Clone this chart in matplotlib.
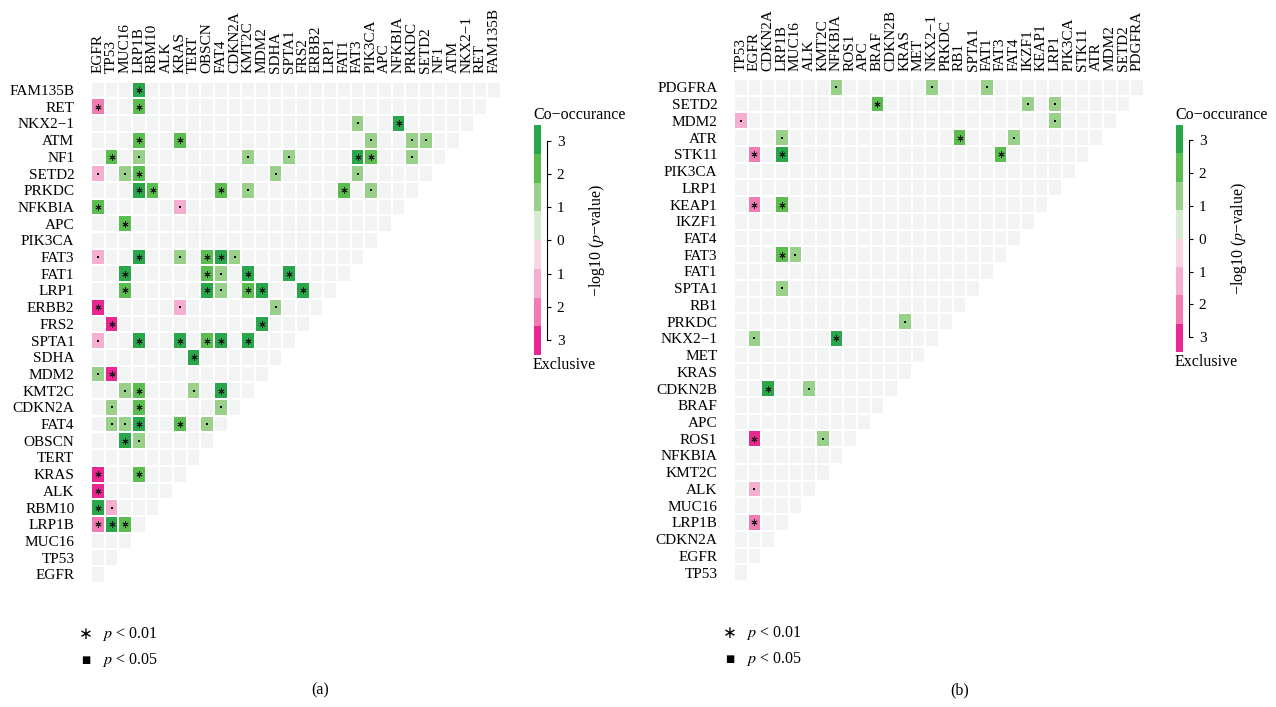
import numpy as np
import matplotlib.pyplot as plt
from matplotlib.colors import ListedColormap, BoundaryNorm

plt.rcParams['font.family'] = ['Liberation Serif', 'DejaVu Serif']
plt.rcParams['mathtext.fontset'] = 'stix'

W, H = 1276, 707

# column order (left to right); rows are the same genes, bottom to top
genes_a = ['EGFR', 'TP53', 'MUC16', 'LRP1B', 'RBM10', 'ALK', 'KRAS', 'TERT', 'OBSCN',
           'FAT4', 'CDKN2A', 'KMT2C', 'MDM2', 'SDHA', 'SPTA1', 'FRS2', 'ERBB2', 'LRP1',
           'FAT1', 'FAT3', 'PIK3CA', 'APC', 'NFKBIA', 'PRKDC', 'SETD2', 'NF1', 'ATM',
           'NKX2−1', 'RET', 'FAM135B']

# (row gene, column gene, level) ; level > 0 co-occurance, < 0 exclusive
pairs_a = [
    ('FAM135B', 'LRP1B', 3),
    ('RET', 'EGFR', -2), ('RET', 'LRP1B', 2),
    ('NKX2−1', 'FAT3', 1), ('NKX2−1', 'NFKBIA', 3),
    ('ATM', 'LRP1B', 2), ('ATM', 'KRAS', 2), ('ATM', 'PIK3CA', 1), ('ATM', 'PRKDC', 1),
    ('ATM', 'SETD2', 1),
    ('NF1', 'TP53', 2), ('NF1', 'LRP1B', 1), ('NF1', 'KMT2C', 1), ('NF1', 'SPTA1', 1),
    ('NF1', 'FAT3', 3), ('NF1', 'PIK3CA', 2), ('NF1', 'PRKDC', 1),
    ('SETD2', 'EGFR', -1), ('SETD2', 'MUC16', 1), ('SETD2', 'LRP1B', 2),
    ('SETD2', 'SDHA', 1), ('SETD2', 'FAT3', 1),
    ('PRKDC', 'LRP1B', 3), ('PRKDC', 'RBM10', 2), ('PRKDC', 'FAT4', 2),
    ('PRKDC', 'KMT2C', 1), ('PRKDC', 'FAT1', 2), ('PRKDC', 'PIK3CA', 1),
    ('NFKBIA', 'EGFR', 2), ('NFKBIA', 'KRAS', -1),
    ('APC', 'MUC16', 2),
    ('FAT3', 'EGFR', -1), ('FAT3', 'LRP1B', 3), ('FAT3', 'KRAS', 1), ('FAT3', 'OBSCN', 2),
    ('FAT3', 'FAT4', 3), ('FAT3', 'CDKN2A', 1),
    ('FAT1', 'MUC16', 3), ('FAT1', 'OBSCN', 2), ('FAT1', 'FAT4', 1), ('FAT1', 'KMT2C', 3),
    ('FAT1', 'SPTA1', 3),
    ('LRP1', 'MUC16', 2), ('LRP1', 'OBSCN', 3), ('LRP1', 'FAT4', 1), ('LRP1', 'KMT2C', 2),
    ('LRP1', 'MDM2', 3), ('LRP1', 'FRS2', 3),
    ('ERBB2', 'EGFR', -3), ('ERBB2', 'KRAS', -1), ('ERBB2', 'SDHA', 1),
    ('FRS2', 'TP53', -3), ('FRS2', 'MDM2', 3),
    ('SPTA1', 'EGFR', -1), ('SPTA1', 'LRP1B', 3), ('SPTA1', 'KRAS', 3), ('SPTA1', 'OBSCN', 2),
    ('SPTA1', 'FAT4', 3), ('SPTA1', 'KMT2C', 3),
    ('SDHA', 'TERT', 3),
    ('MDM2', 'EGFR', 1), ('MDM2', 'TP53', -3),
    ('KMT2C', 'MUC16', 1), ('KMT2C', 'LRP1B', 2), ('KMT2C', 'TERT', 1), ('KMT2C', 'FAT4', 3),
    ('CDKN2A', 'TP53', 1), ('CDKN2A', 'LRP1B', 2), ('CDKN2A', 'FAT4', 1),
    ('FAT4', 'TP53', 1), ('FAT4', 'MUC16', 1), ('FAT4', 'LRP1B', 3), ('FAT4', 'KRAS', 2),
    ('FAT4', 'OBSCN', 1),
    ('OBSCN', 'MUC16', 3), ('OBSCN', 'LRP1B', 1),
    ('KRAS', 'EGFR', -3), ('KRAS', 'LRP1B', 2),
    ('ALK', 'EGFR', -3),
    ('RBM10', 'EGFR', 3), ('RBM10', 'TP53', -1),
    ('LRP1B', 'EGFR', -2), ('LRP1B', 'TP53', 3), ('LRP1B', 'MUC16', 2),
]

genes_b = ['TP53', 'EGFR', 'CDKN2A', 'LRP1B', 'MUC16', 'ALK', 'KMT2C', 'NFKBIA', 'ROS1',
           'APC', 'BRAF', 'CDKN2B', 'KRAS', 'MET', 'NKX2−1', 'PRKDC', 'RB1', 'SPTA1',
           'FAT1', 'FAT3', 'FAT4', 'IKZF1', 'KEAP1', 'LRP1', 'PIK3CA', 'STK11', 'ATR',
           'MDM2', 'SETD2', 'PDGFRA']

pairs_b = [
    ('PDGFRA', 'NFKBIA', 1), ('PDGFRA', 'NKX2−1', 1), ('PDGFRA', 'FAT1', 1),
    ('SETD2', 'BRAF', 2), ('SETD2', 'IKZF1', 1), ('SETD2', 'LRP1', 1),
    ('MDM2', 'TP53', -1), ('MDM2', 'LRP1', 1),
    ('ATR', 'LRP1B', 1), ('ATR', 'RB1', 2), ('ATR', 'FAT4', 1),
    ('STK11', 'EGFR', -2), ('STK11', 'LRP1B', 3), ('STK11', 'FAT3', 2),
    ('KEAP1', 'EGFR', -2), ('KEAP1', 'LRP1B', 2),
    ('FAT3', 'LRP1B', 2), ('FAT3', 'MUC16', 1),
    ('SPTA1', 'LRP1B', 1),
    ('PRKDC', 'KRAS', 1),
    ('NKX2−1', 'EGFR', 1), ('NKX2−1', 'NFKBIA', 3),
    ('CDKN2B', 'CDKN2A', 3), ('CDKN2B', 'ALK', 1),
    ('ROS1', 'EGFR', -3), ('ROS1', 'KMT2C', 1),
    ('ALK', 'EGFR', -1),
    ('LRP1B', 'EGFR', -2),
]

cell_colors = ['#ea2690', '#f27bb3', '#f5aecf', '#f2f3f3', '#99d18b', '#5bbd4f', '#2aa64a']
key_colors = ['#ea2690', '#f27bb3', '#f5aecf', '#fad5e3', '#d6ebd0', '#99d18b', '#5bbd4f', '#2aa64a']
key_labels = ['3', '2', '1', '0', '1', '2', '3']


def px_axes(fig, x0, y0, x1, y1):
    return fig.add_axes([x0 / W, 1 - y1 / H, (x1 - x0) / W, (y1 - y0) / H])


def draw_matrix(fig, genes, pairs, box):
    n = len(genes)
    idx = {g: i for i, g in enumerate(genes)}
    mat = np.zeros((n, n))
    mask = np.zeros((n, n), dtype=bool)
    for r in range(n):
        mask[r, n - r:] = True
    star_x, star_y, sq_x, sq_y = [], [], [], []
    for g_row, g_col, lev in pairs:
        r = n - 1 - idx[g_row]
        c = idx[g_col]
        mat[r, c] = lev
        if abs(lev) >= 2:
            star_x.append(c + 0.5); star_y.append(r + 0.5)
        else:
            sq_x.append(c + 0.5); sq_y.append(r + 0.5)
    vals = np.ma.masked_array(mat, mask=mask)

    ax = px_axes(fig, *box)
    cmap = ListedColormap(cell_colors)
    norm = BoundaryNorm(np.arange(-3.5, 4.5, 1), cmap.N)
    ax.pcolormesh(np.arange(n + 1), np.arange(n + 1), vals, cmap=cmap, norm=norm,
                  edgecolors='white', linewidth=1.4)
    ax.scatter(star_x, star_y, marker=(6, 2, 0), s=15, c='#1a1a1a', linewidths=0.7, zorder=3)
    ax.scatter(sq_x, sq_y, marker='s', s=4, c='black', linewidths=0, zorder=3)
    ax.set_xlim(0, n)
    ax.set_ylim(n, 0)
    ax.xaxis.tick_top()
    ax.set_xticks(np.arange(n) + 0.5)
    ax.set_xticklabels(genes, rotation=90, fontsize=11)
    ax.set_yticks(np.arange(n) + 0.5)
    ax.set_yticklabels(genes[::-1], fontsize=11)
    ax.tick_params(length=0)
    ax.tick_params(axis='x', pad=6)
    ax.tick_params(axis='y', pad=12)
    for s in ax.spines.values():
        s.set_visible(False)
    return ax


def draw_key(fig, x0, top, bottom):
    cax = px_axes(fig, x0, top, x0 + 13, bottom)
    cax.pcolormesh([0, 7], np.arange(9), np.arange(8).reshape(8, 1),
                   cmap=ListedColormap(key_colors))
    cax.set_xlim(0, 13)
    cax.set_ylim(0, 8)
    cax.set_xticks([])
    tpos = np.linspace(0.52, 7.46, 7)
    cax.yaxis.tick_right()
    cax.set_yticks(tpos)
    cax.set_yticklabels(key_labels)
    cax.tick_params(axis='y', direction='out', length=3, width=0.8, pad=4, labelsize=11)
    for side in ['top', 'bottom', 'left']:
        cax.spines[side].set_visible(False)
    cax.spines['right'].set_bounds(tpos[0], tpos[-1])
    cax.spines['right'].set_linewidth(0.8)
    fig.text((x0 - 1) / W, 1 - (top - 10) / H, 'Co−occurance', fontsize=11.5, va='center', ha='left')
    fig.text((x0 - 1) / W, 1 - (bottom + 10) / H, 'Exclusive', fontsize=11.5, va='center', ha='left')
    fig.text((x0 + 63) / W, 1 - (top + bottom) / 2 / H, '−log10 ($p$−value)', fontsize=11.5,
             rotation=90, va='center', ha='center')


def draw_sig_legend(fig, x, y):
    fig.text(x / W, 1 - y / H, '∗', fontsize=12, ha='center', va='center', family='DejaVu Sans')
    fig.text((x + 16) / W, 1 - y / H, '$p$ < 0.01', fontsize=11.5, ha='left', va='center')
    fig.text(x / W, 1 - (y + 26) / H, '■', fontsize=7, ha='center', va='center', family='DejaVu Sans')
    fig.text((x + 16) / W, 1 - (y + 26) / H, '$p$ < 0.05', fontsize=11.5, ha='left', va='center')


fig = plt.figure(figsize=(W / 100, H / 100), dpi=100)

draw_matrix(fig, genes_a, pairs_a, (91, 81.7, 501, 582.7))
draw_key(fig, 534, 125, 355)
draw_sig_legend(fig, 86, 634)
fig.text(320 / W, 1 - 690 / H, '(a)', fontsize=11.5, ha='center', va='center')

draw_matrix(fig, genes_b, pairs_b, (734, 79, 1144, 581))
draw_key(fig, 1176, 125, 352)
draw_sig_legend(fig, 730, 633)
fig.text(960 / W, 1 - 690 / H, '(b)', fontsize=11.5, ha='center', va='center')

fig.savefig('out.png', dpi=100)
